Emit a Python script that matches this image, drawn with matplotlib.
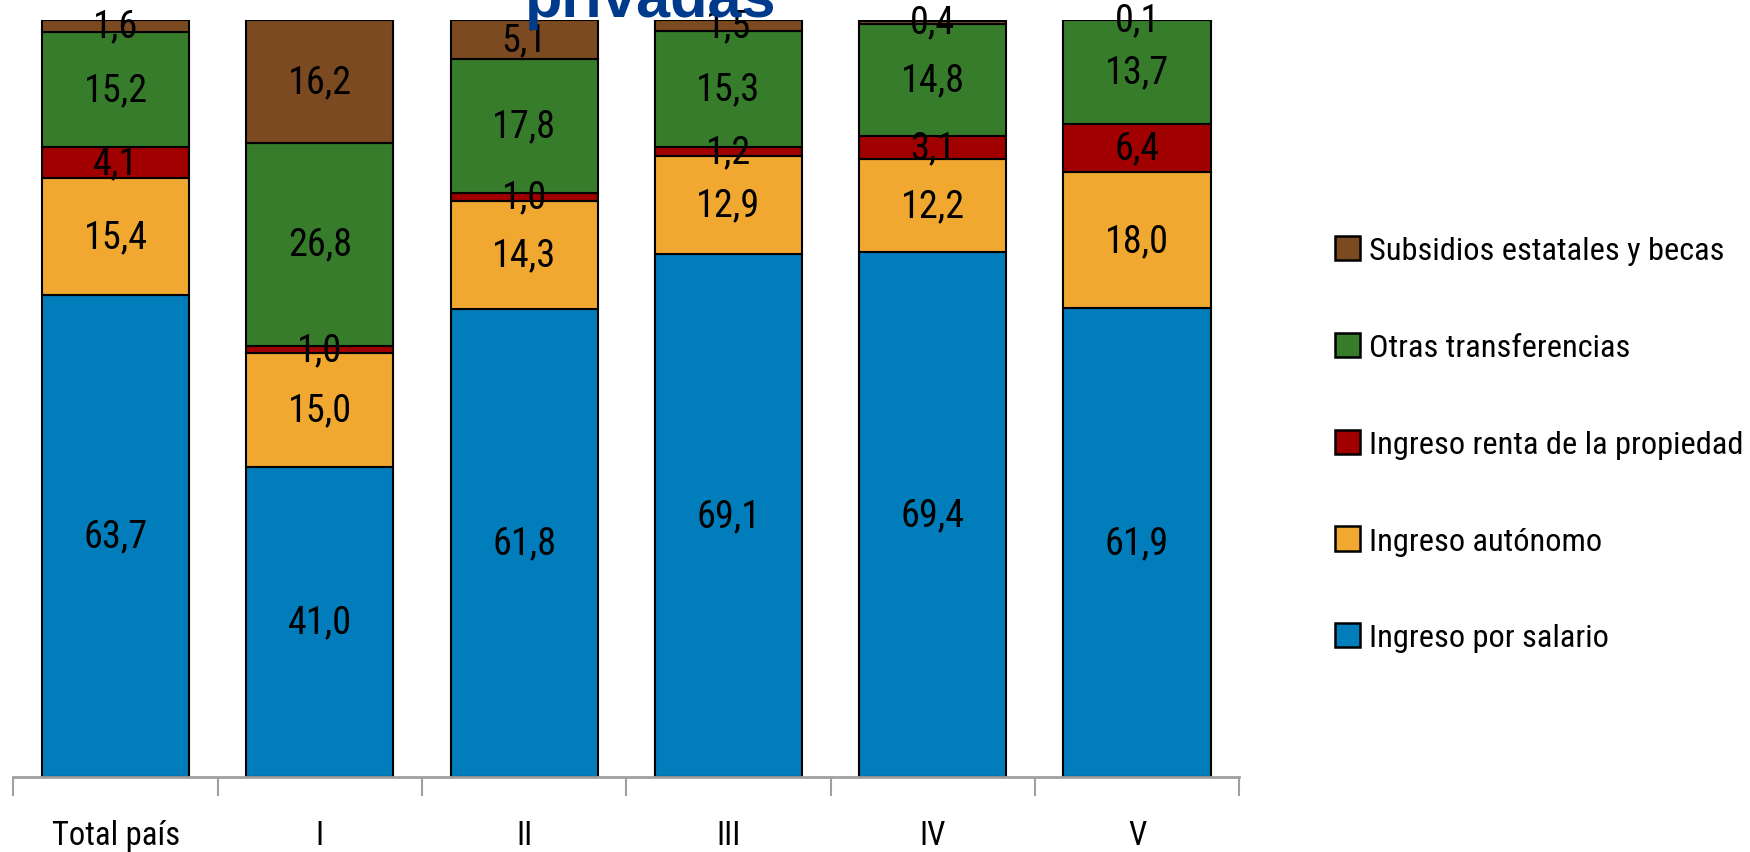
import matplotlib
matplotlib.use("Agg")
import matplotlib.pyplot as plt
import numpy as np

categorias = ["Total país", "I", "II", "III", "IV", "V"]

salario = [63.7, 41.0, 61.8, 69.1, 69.4, 61.9]
autonomo = [15.4, 15.0, 14.3, 12.9, 12.2, 18.0]
renta = [4.1, 1.0, 1.0, 1.2, 3.1, 6.4]
otras = [15.2, 26.8, 17.8, 15.3, 14.8, 13.7]
subsidios = [1.6, 16.2, 5.1, 1.5, 0.4, 0.1]

series = [
    ("Ingreso por salario", salario, "#007DBA"),
    ("Ingreso autónomo", autonomo, "#F0A830"),
    ("Ingreso renta de la propiedad", renta, "#A00000"),
    ("Otras transferencias", otras, "#367C2B"),
    ("Subsidios estatales y becas", subsidios, "#7B4A20"),
]

fuente = ["Liberation Sans Narrow", "DejaVu Sans Condensed", "Roboto Condensed", "DejaVu Sans"]
plt.rcParams["font.family"] = fuente

fig = plt.figure(figsize=(17.5, 8.53), dpi=100)
ax = fig.add_axes([0.0077, 0.0879, 0.7004, 0.8875])

x = np.arange(len(categorias))
base = np.zeros(len(categorias))
for nombre, vals, color in series:
    vals = np.array(vals)
    ax.bar(x, vals, 0.72, bottom=base, color=color, edgecolor="black",
           linewidth=1.5, label=nombre, zorder=2)
    for xi, b, v in zip(x, base, vals):
        ax.text(xi, b + v / 2, f"{v:.1f}".replace(".", ","), ha="center",
                va="center", fontsize=27.5, color="black", zorder=3)
    base = base + vals

ax.set_xlim(-0.5, 5.5)
ax.set_ylim(0, 100)
ax.set_yticks([])
for s in ["top", "right", "left"]:
    ax.spines[s].set_visible(False)
ax.spines["bottom"].set_color("#A0A0A0")
ax.spines["bottom"].set_linewidth(2)

ax.set_xticks(x)
ax.set_xticklabels(categorias, fontsize=23.5)
ax.tick_params(axis="x", which="major", length=0, pad=30)
ax.set_xticks(np.arange(-0.5, 6, 1), minor=True)
ax.tick_params(axis="x", which="minor", length=14, width=1.5, color="#A0A0A0")

handles, labels = ax.get_legend_handles_labels()
leg = fig.legend(handles[::-1], labels[::-1], loc="center left",
                 bbox_to_anchor=(0.746, 0.478), frameon=False, fontsize=23.3,
                 handlelength=0.78, handleheight=0.78, handletextpad=0.28,
                 labelspacing=2.08)
for h in leg.legend_handles:
    h.set_linewidth(1.8)

fig.text(0.372, 0.980, "privadas", fontsize=44, fontweight="bold",
         color="#003A8C", ha="center", va="baseline",
         family=["Liberation Sans", "DejaVu Sans"])

fig.savefig("out.png", dpi=100)
